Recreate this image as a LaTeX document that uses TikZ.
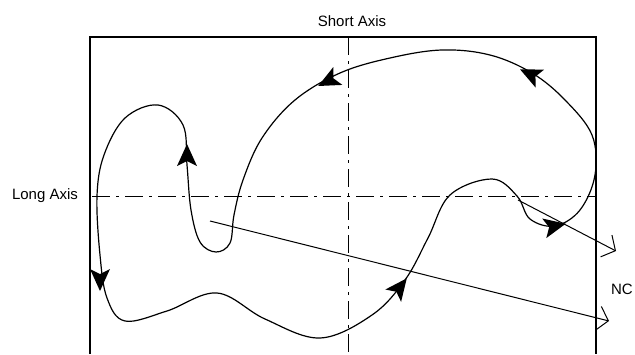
\documentclass[tikz,border=0pt]{standalone}
\usepackage{fontspec}
\setmainfont{Liberation Sans}
\usetikzlibrary{arrows.meta}

\tikzset{
  arrowhd/.pic={\fill (11,0) -- (-11,-10) -- (-6,0) -- (-11,10) -- cycle;}
}

\begin{document}
\begin{tikzpicture}[
  x=1pt, y=-1pt,
  frame/.style={line width=1.2pt},
  axisline/.style={line width=1pt, dash pattern=on 18pt off 6pt on 3pt off 6pt},
  orbit/.style={line width=1.2pt},
  vec/.style={line width=1pt, -{Straight Barb[angle=100:16pt, line width=1pt]}},
  lbl/.style={font=\fontsize{15}{15}\selectfont, inner sep=0pt}
]
\useasboundingbox (0,0) rectangle (635,354);

% frame and axes
\draw[frame] (90,354) -- (90,37) -- (596,37) -- (596,354);
\draw[axisline] (92,196) -- (596,196);
\draw[axisline] (348,37) -- (348,354);

\node[lbl] (shortlbl) at (352,21) {Short Axis};
\node[lbl] (longlbl) at (45,196) {Long Axis};
\node[lbl, anchor=east] (nclbl) at (633,289) {NC};

% closed path
\draw[orbit] plot[smooth cycle, tension=0.6] coordinates {
  (97,196) (100,255) (107,298) (125,321) (167,311) (217,293)
  (265,319) (320,338) (372,315) (405,280) (428,238) (450,195)
  (492,179) (517,196) (530,219) (555,226) (580,210) (595,175)
  (592,135) (565,100) (532,73) (490,55) (442,50) (390,58)
  (340,73) (295,100) (262,138) (243,180) (234,215) (230,243)
  (216,252) (200,242) (191,210) (187,165) (183,125) (158,105)
  (125,118) (104,155)
};

\pic[rotate=-90] at (100,280) {arrowhd};
\pic[rotate=52] at (400,287) {arrowhd};
\pic[rotate=12] at (555,226) {arrowhd};
\pic[rotate=155] at (530,74) {arrowhd};
\pic[rotate=207] at (328,81) {arrowhd};
\pic[rotate=90] at (187,155) {arrowhd};

% vectors
\coordinate (v1s) at (210,221);
\coordinate (v1e) at (609,321);
\coordinate (v2s) at (518,200);
\coordinate (v2e) at (616,251);
\draw[vec] (v1s) -- (v1e);
\draw[vec] (v2s) -- (v2e);
\end{tikzpicture}
\end{document}
